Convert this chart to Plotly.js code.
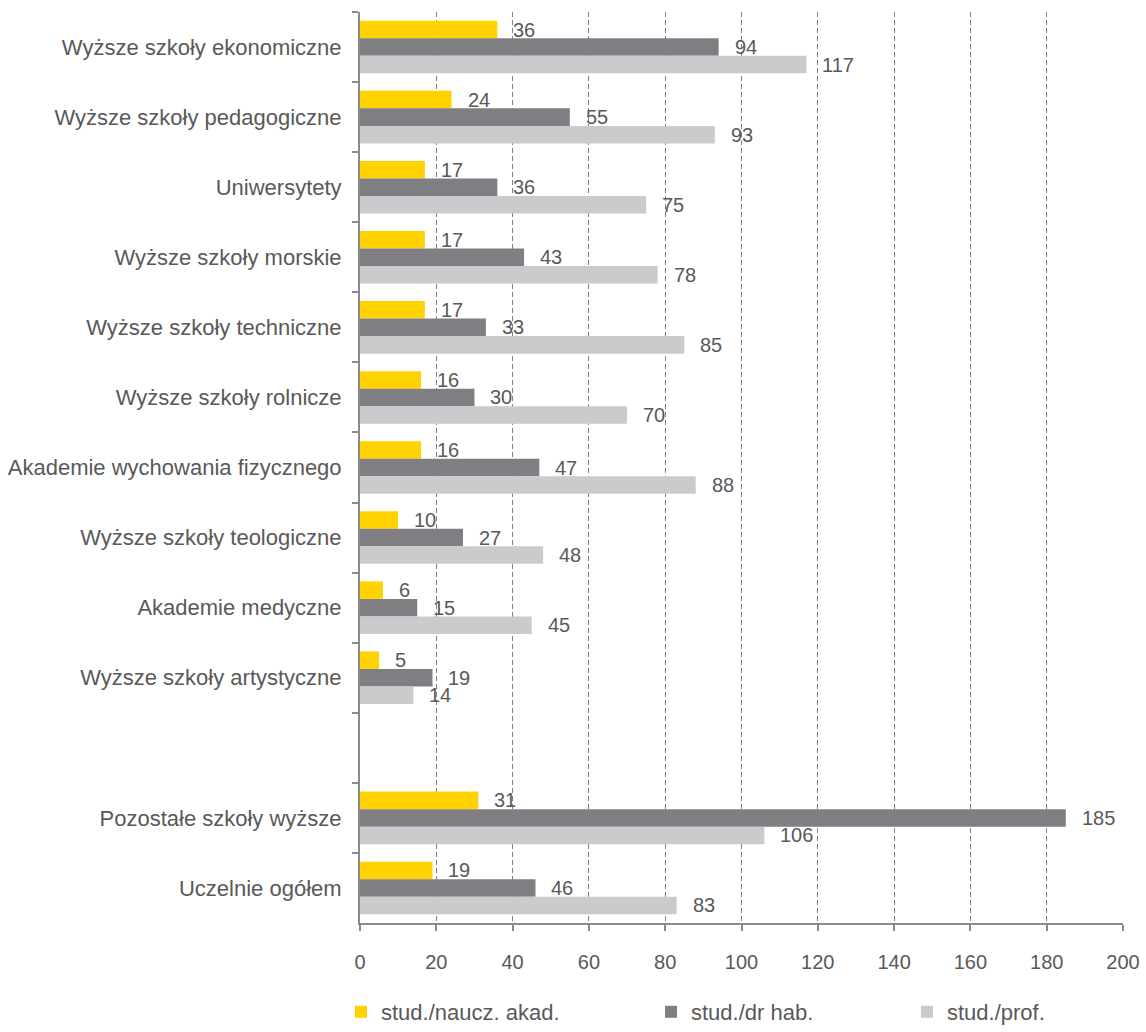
<!DOCTYPE html>
<html>
<head>
<meta charset="utf-8">
<script src="https://cdn.plot.ly/plotly-3.0.1.min.js"></script>
<style>html,body{margin:0;padding:0;background:#fff;}#chart{width:1146px;height:1032px;}</style>
</head>
<body>
<div id="chart"></div>
<script>
const categories = [
  "Wyższe szkoły ekonomiczne",
  "Wyższe szkoły pedagogiczne",
  "Uniwersytety",
  "Wyższe szkoły morskie",
  "Wyższe szkoły techniczne",
  "Wyższe szkoły rolnicze",
  "Akademie wychowania fizycznego",
  "Wyższe szkoły teologiczne",
  "Akademie medyczne",
  "Wyższe szkoły artystyczne",
  " ",
  "Pozostałe szkoły wyższe",
  "Uczelnie ogółem"
];
const studNaucz = [36, 24, 17, 17, 17, 16, 16, 10, 6, 5, null, 31, 19];
const studDrHab = [94, 55, 36, 43, 33, 30, 47, 27, 15, 19, null, 185, 46];
const studProf  = [117, 93, 75, 78, 85, 70, 88, 48, 45, 14, null, 106, 83];
const seriesNames = ["stud./naucz. akad.", "stud./dr hab.", "stud./prof."];
const xTicks = [0, 20, 40, 60, 80, 100, 120, 140, 160, 180, 200];

const colors = ["#FFD200", "#7F7E83", "#CBCBCD"];
const series = [studNaucz, studDrHab, studProf];
const legendIds = ["legend", "legend2", "legend3"];

const traces = series.map((vals, i) => ({
  type: "bar",
  orientation: "h",
  name: seriesNames[i],
  y: categories,
  x: vals,
  marker: {color: colors[i], line: {width: 0}},
  legend: legendIds[i],
  hoverinfo: "x+name"
}));

const fontFam = "Liberation Sans, Arial, sans-serif";
const txtCol = "#595959";
const yShifts = [17.5, 0, -17.5];
const annotations = [];
series.forEach((vals, i) => {
  vals.forEach((v, j) => {
    if (v === null) return;
    annotations.push({
      x: v, y: categories[j], xref: "x", yref: "y",
      text: String(v), showarrow: false,
      xanchor: "left", yanchor: "middle",
      xshift: 14, yshift: yShifts[i],
      font: {family: fontFam, size: 20, color: txtCol}
    });
  });
});

const plotL = 360, plotR = 1123, plotT = 12, plotB = 923;
const W = 1146, H = 1032;
function lx(px) { return (px - plotL) / (plotR - plotL); }
function ly(px) { return (plotB - px) / (plotB - plotT); }
const legendBase = {
  orientation: "h", xref: "paper", yref: "paper",
  xanchor: "left", yanchor: "middle",
  font: {family: fontFam, size: 22, color: txtCol},
  bgcolor: "rgba(0,0,0,0)", itemwidth: 30
};

const layout = {
  width: W, height: H, autosize: false,
  margin: {l: plotL, r: W - plotR, t: plotT, b: H - plotB, pad: 0, autoexpand: false},
  paper_bgcolor: "#ffffff", plot_bgcolor: "#ffffff",
  barmode: "group", bargap: 0.25, bargroupgap: 0,
  showlegend: true,
  font: {family: fontFam, color: txtCol},
  xaxis: {
    range: [0, 200], tickvals: xTicks, ticktext: xTicks.map(String),
    showgrid: true, gridcolor: "#7f7f7f", gridwidth: 1, griddash: "5px,3px",
    showline: true, linecolor: "#8a8a8a", linewidth: 2,
    ticks: "outside", ticklen: 6, tickcolor: "#8a8a8a", tickwidth: 2,
    zeroline: false, ticklabelstandoff: 14,
    tickfont: {family: fontFam, size: 20, color: txtCol},
    fixedrange: true, automargin: false
  },
  yaxis: {
    type: "category", categoryorder: "array", categoryarray: categories,
    autorange: "reversed",
    showgrid: false, zeroline: false,
    showline: true, linecolor: "#8a8a8a", linewidth: 2,
    ticks: "outside", ticklen: 6, tickcolor: "#8a8a8a", tickwidth: 2,
    tickson: "boundaries", ticklabelstandoff: 12,
    tickfont: {family: fontFam, size: 22, color: txtCol},
    fixedrange: true, automargin: false
  },
  legend:  Object.assign({}, legendBase, {x: lx(341), y: ly(1012)}),
  legend2: Object.assign({}, legendBase, {x: lx(651), y: ly(1012)}),
  legend3: Object.assign({}, legendBase, {x: lx(907), y: ly(1012)}),
  annotations: annotations
};

Plotly.newPlot("chart", traces, layout, {displayModeBar: false, staticPlot: true});
</script>
</body>
</html>
